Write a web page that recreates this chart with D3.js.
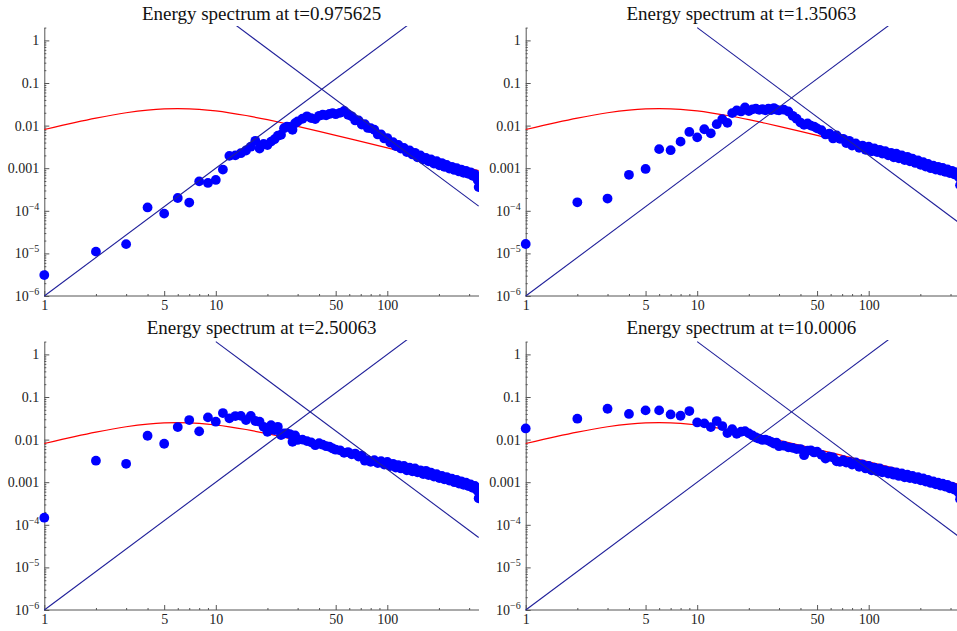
<!DOCTYPE html>
<html><head><meta charset="utf-8">
<script src="https://cdn.jsdelivr.net/npm/d3@7"></script>
<style>
html,body{margin:0;padding:0;background:#fff;}
svg{display:block;font-family:"Liberation Serif","Times New Roman",serif;}
</style></head><body>
<svg id="chart" width="957" height="631"></svg>
<script>
// ---------------- data ----------------
const titles = ["Energy spectrum at t=0.975625","Energy spectrum at t=1.35063","Energy spectrum at t=2.50063","Energy spectrum at t=10.0006"];

const waveK = [1,2,3,4,5,6,7,8,9,10,
  11,12,13,14,15,16,17,18,19,20,
  21,22,23,24,25,26,27,28,29,30,
  32,34,36,38,40,42,44,46,48,50,
  53,56,59,62,65,68,71,74,77,80,
  84,88,92,96,100,104,108,112,116,120,
  125,130,135,140,145,150,156,162,168,174,
  180,187,194,201,208,215,222,230,238,246,
  254,262,270,279,288,297,306,315,324,332,
  337,341];

const energyT0975625 = [3.1e-6,1.1e-5,1.65e-5,1.2e-4,8.6e-5,2.0e-4,1.56e-4,4.9e-4,4.5e-4,5.3e-4,
  9.3e-4,1.95e-3,2.0e-3,2.25e-3,2.6e-3,3.2e-3,4.4e-3,2.9e-3,3.7e-3,3.5e-3,
  4.2e-3,4.8e-3,5.8e-3,6.1e-3,8.7e-3,9.5e-3,9.3e-3,8.0e-3,0.0114,0.0125,
  0.0145,0.0165,0.0150,0.0142,0.0170,0.0180,0.0175,0.0188,0.0196,0.0185,
  0.0200,0.0222,0.0180,0.0165,0.0132,0.0132,0.0106,0.0108,0.0088,0.0087,
  0.0080,0.0062,0.0062,0.0050,0.0051,0.0040,0.0041,0.0033,0.0035,0.0029,
  0.0030,0.0024,0.0026,0.0021,0.0023,0.0018,0.0020,0.0016,0.00175,0.00145,
  0.00160,0.00128,0.00146,0.00117,0.00132,0.00108,0.00119,0.00098,0.00108,0.00091,
  0.00100,0.00084,0.00093,0.00078,0.00086,0.00074,0.00080,0.00066,0.00072,0.00060,
  0.00052,0.00036];

const energyT135063 = [1.66e-5,1.58e-4,1.94e-4,7.0e-4,9.6e-4,2.8e-3,2.65e-3,4.2e-3,7.1e-3,5.3e-3,
  8.2e-3,6.6e-3,0.0108,0.0142,0.0116,0.0196,0.0226,0.0215,0.0266,0.0220,
  0.0240,0.0250,0.0235,0.0242,0.0228,0.0250,0.0232,0.0258,0.0235,0.0228,
  0.0236,0.0214,0.0170,0.0145,0.0118,0.0104,0.0112,0.0100,0.0095,0.0086,
  0.0078,0.0062,0.0065,0.0050,0.0059,0.0049,0.0049,0.0039,0.0044,0.0034,
  0.0038,0.0030,0.0034,0.0027,0.0032,0.0025,0.0029,0.0024,0.0027,0.0022,
  0.0025,0.0020,0.0023,0.0018,0.0022,0.0017,0.0020,0.00155,0.00185,0.00145,
  0.00168,0.00133,0.00152,0.00120,0.00138,0.00109,0.00126,0.00100,0.00115,0.00093,
  0.00108,0.00088,0.00101,0.00082,0.00094,0.00077,0.00087,0.00072,0.00080,0.00067,
  0.00060,0.00040];

const energyT250063 = [1.47e-4,3.2e-3,2.7e-3,0.0123,0.0080,0.0197,0.0288,0.0156,0.0332,0.0263,
  0.0420,0.0315,0.0357,0.0360,0.0288,0.0360,0.0273,0.0263,0.0200,0.0153,
  0.0218,0.0167,0.0200,0.0128,0.0139,0.0140,0.0135,0.0089,0.0125,0.0098,
  0.0100,0.0092,0.0086,0.0074,0.0082,0.0076,0.0070,0.0068,0.0062,0.0058,
  0.0056,0.0049,0.0051,0.0045,0.0047,0.0040,0.0042,0.0032,0.0033,0.0030,
  0.0033,0.0028,0.0031,0.0026,0.0030,0.0024,0.0027,0.0022,0.0025,0.0021,
  0.0024,0.0019,0.0022,0.0018,0.0021,0.0017,0.0019,0.00155,0.00185,0.00147,
  0.00168,0.00136,0.00155,0.00125,0.00141,0.00117,0.00132,0.00109,0.00121,0.00100,
  0.00113,0.00093,0.00105,0.00087,0.00097,0.00081,0.00089,0.00074,0.00082,0.00067,
  0.00062,0.00042];

const energyT100006 = [0.0183,0.0310,0.0530,0.0400,0.0485,0.0485,0.0390,0.0363,0.0468,0.0253,
  0.0240,0.0197,0.0272,0.0208,0.0142,0.0176,0.0137,0.0153,0.0158,0.0140,
  0.0125,0.0112,0.0105,0.0098,0.0100,0.0095,0.0088,0.0081,0.0085,0.0070,
  0.0072,0.0066,0.0064,0.0060,0.0060,0.0043,0.0055,0.0056,0.0050,0.0052,
  0.0044,0.0036,0.0040,0.0038,0.0031,0.0030,0.0033,0.0029,0.0030,0.0026,
  0.0029,0.0023,0.0026,0.0021,0.0024,0.0019,0.0022,0.0018,0.0021,0.0017,
  0.0019,0.0016,0.0018,0.0015,0.0017,0.0014,0.0016,0.0013,0.0015,0.00125,
  0.00140,0.00118,0.00131,0.00111,0.00122,0.00103,0.00113,0.00096,0.00104,0.00089,
  0.00097,0.00083,0.00092,0.00079,0.00086,0.00072,0.00079,0.00067,0.00072,0.00060,
  0.00055,0.00040];

// red model spectrum
const modelK = [1,1.5,2,3,4,5,6,7,8,10,12,15,20,25,30,40,50,70,100,150,200,250,300,341];
const modelE = [0.0081,0.01176,0.01499,0.0200,0.02307,0.02458,0.02499,0.0247,0.02399,0.02205,0.01999,0.01723,0.01376,0.01134,0.00961,0.00733,0.00591,0.00425,0.00299,0.001996,0.001498,0.001199,0.000999,0.000879];

// straight reference lines
const slopeUpK = [1, 341];
const slopeUpE = [1e-6, 39.65];
const slopeDownK = [10, 341];
const slopeDownE = [[5.1, 1.286e-4],[2.0, 5.04e-5],[2.0, 5.04e-5],[2.0, 5.04e-5]];

// ticks
const xTickVals = [1,5,10,50,100];
const xTickLabels = ["1","5","10","50","100"];
const xMinorVals = [2,3,4,6,7,8,9,20,30,40,60,70,80,90,200,300];
const yTickVals = [1e-6,1e-5,1e-4,1e-3,1e-2,0.1,1];
const yTickLabels = ["10^-6","10^-5","10^-4","0.001","0.01","0.1","1"];
const yMinorMult = [2,3,4,5,6,7,8,9];

// ---------------- layout ----------------
const datasets = [energyT0975625, energyT135063, energyT250063, energyT100006];
const panels = [
  {ox:44.3, yb:296, left:0, right:479, titleY:20},
  {ox:525.7, yb:296, left:479, right:957, titleY:20},
  {ox:44.3, yb:610, left:0, right:479, titleY:334},
  {ox:525.7, yb:610, left:479, right:957, titleY:334}
];
const DEC_X = 171.5, DEC_Y = 42.6, KMAX = 341;
const yMinorVals = [];
[1e-6,1e-5,1e-4,1e-3,1e-2,0.1,1].forEach(d => yMinorMult.forEach(m => { if (m*d <= 2.05) yMinorVals.push(m*d); }));

const svg = d3.select("#chart");
const defs = svg.append("defs");
const AXIS = "#555";

panels.forEach((p, i) => {
  const x = d3.scaleLog().domain([1, KMAX]).range([p.ox, p.ox + DEC_X*Math.log10(KMAX)]);
  const y = d3.scaleLog().domain([1e-6, 2]).range([p.yb, p.yb - DEC_Y*Math.log10(2e6)]);
  const topY = p.yb - DEC_Y*6.34;

  defs.append("clipPath").attr("id","clip"+i).append("rect")
    .attr("x", p.left).attr("y", topY).attr("width", p.right - p.left).attr("height", p.yb + 20 - topY);

  const g = svg.append("g");

  // title
  g.append("text").attr("x", (p.ox + p.right)/2).attr("y", p.titleY)
    .attr("text-anchor","middle").attr("font-size",19).attr("fill","#111").text(titles[i]);

  // axes
  const xa = g.append("g").attr("transform",`translate(0,${p.yb})`)
    .call(d3.axisBottom(x).tickValues(xTickVals).tickSize(-5).tickSizeOuter(0).tickPadding(4)
      .tickFormat(d => xTickLabels[xTickVals.indexOf(d)]));
  const xm = g.append("g").attr("transform",`translate(0,${p.yb})`)
    .call(d3.axisBottom(x).tickValues(xMinorVals).tickSize(-2).tickSizeOuter(0).tickFormat(""));
  xm.select(".domain").remove();
  const ya = g.append("g").attr("transform",`translate(${p.ox},0)`)
    .call(d3.axisLeft(y).tickValues(yTickVals).tickSize(-5).tickSizeOuter(0).tickPadding(5).tickFormat(() => ""));
  const ym = g.append("g").attr("transform",`translate(${p.ox},0)`)
    .call(d3.axisLeft(y).tickValues(yMinorVals).tickSize(-2).tickSizeOuter(0).tickFormat(""));
  ym.select(".domain").remove();

  [xa, xm, ya, ym].forEach(a => {
    a.attr("font-family",'"Liberation Serif","Times New Roman",serif').attr("font-size",14);
    a.selectAll(".domain").attr("stroke",AXIS);
    a.selectAll(".tick line").attr("stroke",AXIS);
    a.selectAll(".tick text").attr("fill","#222");
  });
  xa.select(".domain").attr("d", `M${p.ox},0H${p.right}`);

  ya.selectAll(".tick text").each(function(d){
    const lab = yTickLabels[yTickVals.indexOf(d)];
    const t = d3.select(this);
    if (lab.indexOf("^") >= 0) {
      const parts = lab.split("^");
      t.text(parts[0]);
      t.append("tspan").attr("dy",-6).attr("font-size",10).text(parts[1].replace("-","\u2212"));
    } else t.text(lab);
  });

  const plot = g.append("g").attr("clip-path",`url(#clip${i})`);
  const line = d3.line().x(d => x(d[0])).y(d => y(d[1]));

  // red model curve
  plot.append("path").datum(modelK.map((k,j)=>[k, modelE[j]]))
    .attr("d", line.curve(d3.curveMonotoneX)).attr("fill","none")
    .attr("stroke","#ff0000").attr("stroke-width",1.2);

  // data points
  const data = datasets[i];
  plot.selectAll("circle").data(waveK.map((k,j)=>[k, data[j]])).join("circle")
    .attr("cx", d => x(d[0])).attr("cy", d => y(d[1])).attr("r", 4.9).attr("fill","#0000ff");

  // straight reference lines
  const sline = d3.line().x(d => x(d[0])).y(d => y(d[1]));
  plot.append("path").datum(slopeUpK.map((k,j)=>[k, slopeUpE[j]]))
    .attr("d", sline).attr("fill","none").attr("stroke","#20209a").attr("stroke-width",1.1);
  plot.append("path").datum(slopeDownK.map((k,j)=>[k, slopeDownE[i][j]]))
    .attr("d", sline).attr("fill","none").attr("stroke","#20209a").attr("stroke-width",1.1);
});
</script>
</body></html>
